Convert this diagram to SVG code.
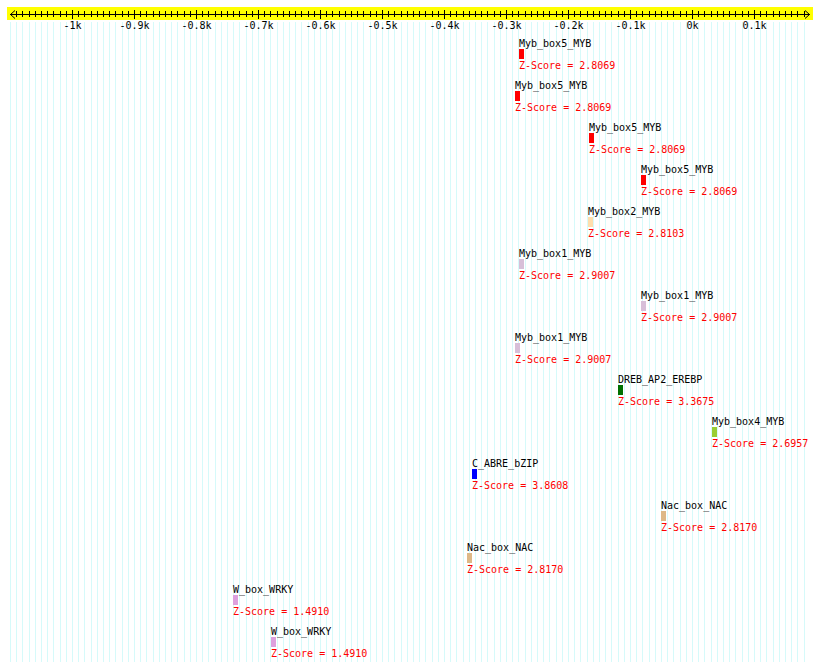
<svg xmlns="http://www.w3.org/2000/svg" width="820" height="671" viewBox="0 0 820 671">
<defs>
<pattern id="grid" patternUnits="userSpaceOnUse" x="10" y="0" width="31" height="671">
<rect x="0" y="0" width="1" height="671" fill="#D6FAFA"/>
<rect x="6" y="0" width="1" height="671" fill="#D6FAFA"/>
<rect x="12" y="0" width="1" height="671" fill="#D6FAFA"/>
<rect x="19" y="0" width="1" height="671" fill="#D6FAFA"/>
<rect x="25" y="0" width="1" height="671" fill="#D6FAFA"/>
</pattern>
<pattern id="minor" patternUnits="userSpaceOnUse" x="10" y="0" width="31" height="671">
<rect x="0" y="11" width="1" height="6" fill="#000"/>
<rect x="6" y="11" width="1" height="6" fill="#000"/>
<rect x="12" y="11" width="1" height="6" fill="#000"/>
<rect x="19" y="11" width="1" height="6" fill="#000"/>
<rect x="25" y="11" width="1" height="6" fill="#000"/>
</pattern>
</defs>
<style>
text{font-family:"DejaVu Sans Mono","Liberation Mono",monospace;font-size:10px}
.lbl{fill:#000}
.z{fill:#FF0000}
.tick{text-anchor:middle;fill:#000}
</style>
<rect x="0" y="0" width="820" height="671" fill="#FFFFFF"/>
<rect x="10" y="22" width="800" height="640" fill="url(#grid)"/>
<g id="ruler">
<rect x="7" y="7" width="806" height="13" fill="#FFFF00"/>
<rect x="14" y="0" width="792" height="30" fill="url(#minor)"/>
<path d="M10 14.5H810M15 10.5L10.5 14.5L15 18.5M805 10.5L809.5 14.5L805 18.5" fill="none" stroke="#000" stroke-width="1"/>
<path d="M72.5 10V19M134.5 10V19M196.5 10V19M258.5 10V19M320.5 10V19M382.5 10V19M444.5 10V19M506.5 10V19M568.5 10V19M630.5 10V19M692.5 10V19M754.5 10V19" stroke="#000" stroke-width="1"/>
<text class="tick" x="72.5" y="29">-1k</text>
<text class="tick" x="134.5" y="29">-0.9k</text>
<text class="tick" x="196.5" y="29">-0.8k</text>
<text class="tick" x="258.5" y="29">-0.7k</text>
<text class="tick" x="320.5" y="29">-0.6k</text>
<text class="tick" x="382.5" y="29">-0.5k</text>
<text class="tick" x="444.5" y="29">-0.4k</text>
<text class="tick" x="506.5" y="29">-0.3k</text>
<text class="tick" x="568.5" y="29">-0.2k</text>
<text class="tick" x="630.5" y="29">-0.1k</text>
<text class="tick" x="692.5" y="29">0k</text>
<text class="tick" x="754.5" y="29">0.1k</text>
</g>
<g id="m1"><text class="lbl" x="519" y="47">Myb_box5_MYB</text><rect x="519" y="49" width="5" height="10" fill="#FF0000"/><text class="z" x="519" y="69">Z-Score = 2.8069</text></g>
<g id="m2"><text class="lbl" x="515" y="89">Myb_box5_MYB</text><rect x="515" y="91" width="5" height="10" fill="#FF0000"/><text class="z" x="515" y="111">Z-Score = 2.8069</text></g>
<g id="m3"><text class="lbl" x="589" y="131">Myb_box5_MYB</text><rect x="589" y="133" width="5" height="10" fill="#FF0000"/><text class="z" x="589" y="153">Z-Score = 2.8069</text></g>
<g id="m4"><text class="lbl" x="641" y="173">Myb_box5_MYB</text><rect x="641" y="175" width="5" height="10" fill="#FF0000"/><text class="z" x="641" y="195">Z-Score = 2.8069</text></g>
<g id="m5"><text class="lbl" x="588" y="215">Myb_box2_MYB</text><rect x="588" y="217" width="5" height="10" fill="#FFDEAD"/><text class="z" x="588" y="237">Z-Score = 2.8103</text></g>
<g id="m6"><text class="lbl" x="519" y="257">Myb_box1_MYB</text><rect x="519" y="259" width="5" height="10" fill="#D8BFD8"/><text class="z" x="519" y="279">Z-Score = 2.9007</text></g>
<g id="m7"><text class="lbl" x="641" y="299">Myb_box1_MYB</text><rect x="641" y="301" width="5" height="10" fill="#D8BFD8"/><text class="z" x="641" y="321">Z-Score = 2.9007</text></g>
<g id="m8"><text class="lbl" x="515" y="341">Myb_box1_MYB</text><rect x="515" y="343" width="5" height="10" fill="#D8BFD8"/><text class="z" x="515" y="363">Z-Score = 2.9007</text></g>
<g id="m9"><text class="lbl" x="618" y="383">DREB_AP2_EREBP</text><rect x="618" y="385" width="5" height="10" fill="#007000"/><text class="z" x="618" y="405">Z-Score = 3.3675</text></g>
<g id="m10"><text class="lbl" x="712" y="425">Myb_box4_MYB</text><rect x="712" y="427" width="5" height="10" fill="#9ACD32"/><text class="z" x="712" y="447">Z-Score = 2.6957</text></g>
<g id="m11"><text class="lbl" x="472" y="467">C_ABRE_bZIP</text><rect x="472" y="469" width="5" height="10" fill="#0000FF"/><text class="z" x="472" y="489">Z-Score = 3.8608</text></g>
<g id="m12"><text class="lbl" x="661" y="509">Nac_box_NAC</text><rect x="661" y="511" width="5" height="10" fill="#DEB887"/><text class="z" x="661" y="531">Z-Score = 2.8170</text></g>
<g id="m13"><text class="lbl" x="467" y="551">Nac_box_NAC</text><rect x="467" y="553" width="5" height="10" fill="#DEB887"/><text class="z" x="467" y="573">Z-Score = 2.8170</text></g>
<g id="m14"><text class="lbl" x="233" y="593">W_box_WRKY</text><rect x="233" y="595" width="5" height="10" fill="#DDA0DD"/><text class="z" x="233" y="615">Z-Score = 1.4910</text></g>
<g id="m15"><text class="lbl" x="271" y="635">W_box_WRKY</text><rect x="271" y="637" width="5" height="10" fill="#DDA0DD"/><text class="z" x="271" y="657">Z-Score = 1.4910</text></g>
<g id="connectors"/>
</svg>
